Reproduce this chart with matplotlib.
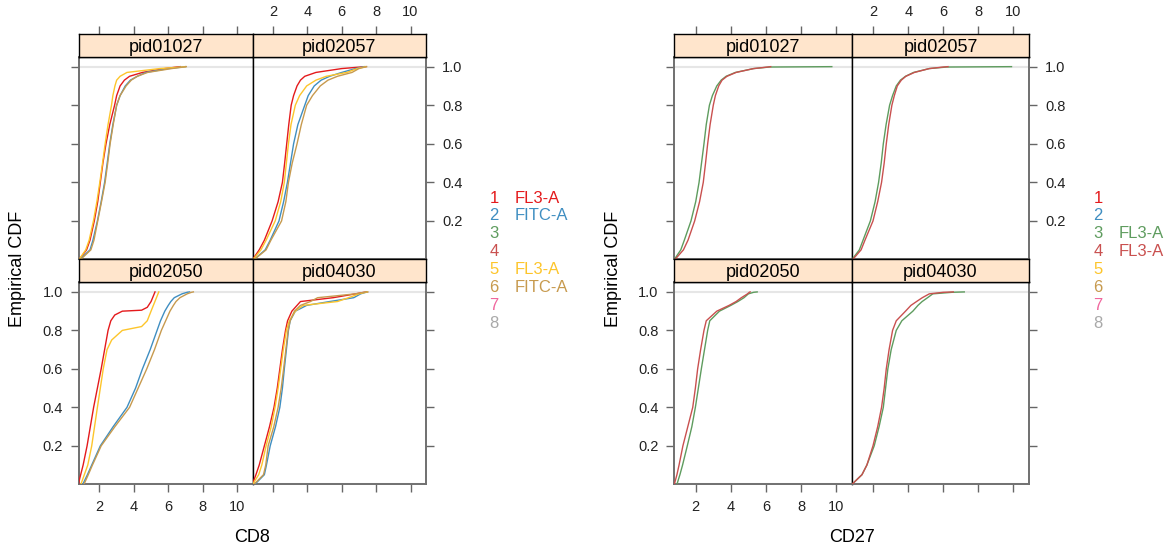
import matplotlib
matplotlib.use("Agg")
import matplotlib.pyplot as plt

plt.rcParams['font.family'] = ['Liberation Sans', 'DejaVu Sans']

# --------------------------------------------------------------
# Data: x values read at fixed ECDF levels
# --------------------------------------------------------------
panels = ["pid01027", "pid02057", "pid02050", "pid04030"]
levels = [0, .05, .1, .2, .3, .4, .5, .6, .7, .8, .85, .9, .93, .95, .97, .99, .998, 1.0]

series_labels = ["1", "2", "3", "4", "5", "6", "7", "8"]
cd8_legend = ["FL3-A", "FITC-A", "", "", "FL3-A", "FITC-A", "", ""]
cd27_legend = ["", "", "FL3-A", "FL3-A", "", "", "", ""]
colors = ["#E41A1C", "#3F8EC1", "#5E9C5E", "#C9504F", "#FDC52B", "#C79A4E", "#F0679E", "#A9A9A9"]

# CD8, pid01027
cd8_01027_s1 = [0.82, 1.25, 1.45, 1.7, 1.9, 2.05, 2.2, 2.38, 2.6, 2.88, 3.0, 3.2, 3.45, 3.75, 4.5, 5.8, 6.5, 6.7]
cd8_01027_s2 = [0.85, 1.45, 1.62, 1.88, 2.1, 2.3, 2.45, 2.6, 2.78, 3.0, 3.2, 3.5, 3.8, 4.2, 4.7, 6.0, 6.8, 7.0]
cd8_01027_s5 = [0.82, 1.2, 1.4, 1.65, 1.85, 2.02, 2.18, 2.33, 2.5, 2.7, 2.78, 2.9, 3.0, 3.2, 3.6, 5.5, 6.8, 7.0]
cd8_01027_s6 = [0.9, 1.5, 1.68, 1.9, 2.12, 2.33, 2.48, 2.62, 2.8, 3.0, 3.2, 3.55, 3.85, 4.2, 4.8, 6.2, 6.9, 7.05]
# CD8, pid02057
cd8_02057_s1 = [0.82, 1.2, 1.5, 1.95, 2.3, 2.55, 2.68, 2.8, 2.92, 3.06, 3.2, 3.4, 3.6, 3.85, 4.5, 6.0, 7.1, 7.4]
cd8_02057_s2 = [0.9, 1.55, 1.84, 2.35, 2.62, 2.84, 3.02, 3.2, 3.45, 3.85, 4.05, 4.4, 4.8, 5.3, 6.0, 6.8, 7.2, 7.3]
cd8_02057_s5 = [0.84, 1.3, 1.6, 2.13, 2.45, 2.66, 2.78, 2.9, 3.05, 3.3, 3.55, 3.96, 4.5, 5.1, 6.3, 6.9, 7.3, 7.4]
cd8_02057_s6 = [0.92, 1.6, 1.88, 2.5, 2.75, 2.9, 3.12, 3.4, 3.65, 3.96, 4.3, 4.75, 5.2, 5.75, 6.6, 7.0, 7.35, 7.45]
# CD8, pid02050 (red and yellow have their own levels)
cd8_02050_s1_y = [0, 0.03, 0.1, 0.2, 0.4, 0.6, 0.8, 0.85, 0.88, 0.9, 0.905, 0.92, 0.95, 1.0]
cd8_02050_s1 = [0.78, 0.85, 1.05, 1.28, 1.66, 2.1, 2.5, 2.66, 2.89, 3.33, 4.45, 4.78, 5.0, 5.23]
cd8_02050_s5_y = [0, 0.1, 0.2, 0.4, 0.6, 0.7, 0.75, 0.8, 0.81, 0.82, 0.85, 0.9, 1.0]
cd8_02050_s5 = [0.92, 1.32, 1.55, 1.88, 2.22, 2.44, 2.71, 3.33, 3.89, 4.45, 4.78, 5.0, 5.45]
cd8_02050_s2 = [1.03, 1.3, 1.55, 2.05, 2.8, 3.6, 4.1, 4.5, 4.95, 5.35, 5.55, 5.8, 6.0, 6.15, 6.35, 6.8, 7.1, 7.24]
cd8_02050_s6 = [1.1, 1.35, 1.59, 2.1, 2.9, 3.75, 4.25, 4.75, 5.2, 5.6, 5.85, 6.1, 6.3, 6.45, 6.68, 7.1, 7.35, 7.46]
# CD8, pid04030
cd8_04030_s1 = [0.8, 1.01, 1.2, 1.5, 1.8, 2.06, 2.25, 2.4, 2.55, 2.73, 2.85, 3.1, 3.4, 3.6, 5.5, 6.8, 7.3, 7.5]
cd8_04030_s2 = [0.95, 1.5, 1.62, 1.84, 2.15, 2.4, 2.55, 2.66, 2.78, 2.9, 3.0, 3.3, 3.96, 5.3, 6.7, 7.1, 7.4, 7.5]
cd8_04030_s5 = [0.82, 1.17, 1.35, 1.6, 1.9, 2.12, 2.3, 2.45, 2.6, 2.78, 2.95, 3.3, 3.75, 5.75, 6.4, 7.0, 7.4, 7.5]
cd8_04030_s6 = [0.9, 1.45, 1.58, 1.72, 2.05, 2.3, 2.48, 2.62, 2.75, 2.88, 3.0, 3.25, 3.6, 4.18, 4.6, 6.8, 7.3, 7.45]

# CD27
cd27_01027_s3 = [0.78, 1.15, 1.35, 1.73, 2.0, 2.19, 2.33, 2.47, 2.6, 2.78, 2.95, 3.2, 3.45, 3.73, 4.26, 5.3, 6.2, 9.75]
cd27_01027_s4 = [0.82, 1.3, 1.56, 1.94, 2.22, 2.43, 2.56, 2.68, 2.82, 3.0, 3.12, 3.31, 3.5, 3.78, 4.3, 5.3, 6.1, 6.27]
cd27_02057_s3 = [0.78, 1.2, 1.41, 1.83, 2.1, 2.3, 2.45, 2.57, 2.73, 2.93, 3.1, 3.31, 3.55, 3.84, 4.3, 5.2, 6.2, 9.9]
cd27_02057_s4 = [0.82, 1.3, 1.52, 1.98, 2.25, 2.47, 2.62, 2.74, 2.88, 3.06, 3.2, 3.37, 3.6, 3.86, 4.35, 5.2, 6.0, 6.27]
cd27_02050_s3 = [0.93, 1.1, 1.25, 1.52, 1.78, 1.98, 2.15, 2.32, 2.5, 2.68, 2.8, 3.35, 4.0, 4.4, 4.75, 5.0, 5.3, 5.5]
cd27_02050_s4 = [0.78, 0.93, 1.05, 1.27, 1.55, 1.83, 1.98, 2.11, 2.28, 2.47, 2.6, 3.2, 3.9, 4.3, 4.6, 4.95, 5.05, 5.1]
cd27_04030_s3 = [0.78, 1.35, 1.63, 2.05, 2.33, 2.57, 2.7, 2.83, 3.02, 3.31, 3.63, 4.26, 4.55, 4.79, 5.1, 5.4, 6.5, 7.2]
cd27_04030_s4 = [0.78, 1.35, 1.63, 1.98, 2.25, 2.47, 2.62, 2.74, 2.9, 3.1, 3.31, 3.84, 4.15, 4.47, 4.8, 5.2, 6.0, 6.57]

x_ticks = [2, 4, 6, 8, 10]
y_ticks = [0.2, 0.4, 0.6, 0.8, 1.0]

# curves per panel: (series number, x, y)
cd8_curves = {
    "pid01027": [(1, cd8_01027_s1, levels), (2, cd8_01027_s2, levels), (5, cd8_01027_s5, levels), (6, cd8_01027_s6, levels)],
    "pid02057": [(1, cd8_02057_s1, levels), (2, cd8_02057_s2, levels), (5, cd8_02057_s5, levels), (6, cd8_02057_s6, levels)],
    "pid02050": [(1, cd8_02050_s1, cd8_02050_s1_y), (2, cd8_02050_s2, levels), (5, cd8_02050_s5, cd8_02050_s5_y), (6, cd8_02050_s6, levels)],
    "pid04030": [(1, cd8_04030_s1, levels), (2, cd8_04030_s2, levels), (5, cd8_04030_s5, levels), (6, cd8_04030_s6, levels)],
}
cd27_curves = {
    "pid01027": [(3, cd27_01027_s3, levels), (4, cd27_01027_s4, levels)],
    "pid02057": [(3, cd27_02057_s3, levels), (4, cd27_02057_s4, levels)],
    "pid02050": [(3, cd27_02050_s3, levels), (4, cd27_02050_s4, levels)],
    "pid04030": [(3, cd27_04030_s3, levels), (4, cd27_04030_s4, levels)],
}

# --------------------------------------------------------------
# Layout (pixels)
# --------------------------------------------------------------
W, H = 1175, 548
fig = plt.figure(figsize=(W / 100, H / 100), dpi=100)

def px_axes(x0, y0, x1, y1):
    return fig.add_axes([x0 / W, 1 - y1 / H, (x1 - x0) / W, (y1 - y0) / H])

rows = [(34.3, 57.0, 259.5), (259.5, 282.3, 484.3)]  # strip top, panel top, panel bottom
TICK_C = "#666666"
BORDER_C = "#707070"


def draw_group(cols_px, xlim, curves, xlabel, legend_texts, leg_x):
    for i, pid in enumerate(panels):
        r, c = divmod(i, 2)
        st, pt, pb = rows[r]
        x0, x1 = cols_px[c], cols_px[c + 1]

        ax = px_axes(x0, pt, x1, pb)
        ax.set_xlim(*xlim)
        ax.set_ylim(0, 1.05)
        ax.axhline(0, color="#E6E6E6", lw=1.5, zorder=1)
        ax.axhline(1, color="#E6E6E6", lw=1.5, zorder=1)
        for s, xs, ys in curves[pid]:
            ax.plot(xs, ys, color=colors[s - 1], lw=1.0, zorder=3, clip_on=True)

        for side in ["left", "right", "top", "bottom"]:
            ax.spines[side].set_color(BORDER_C)
            ax.spines[side].set_linewidth(1.4)
        ax.spines["top"].set_color("black")
        ax.spines["top"].set_linewidth(1.0)
        if c == 0:
            ax.spines["right"].set_color("black")
            ax.spines["right"].set_linewidth(1.0)
        else:
            ax.spines["left"].set_color("black")
            ax.spines["left"].set_linewidth(1.0)

        ax.set_xticks(x_ticks)
        ax.set_yticks(y_ticks)
        ax.set_yticklabels([f"{v:.1f}" for v in y_ticks])
        ax.tick_params(direction="out", length=5.5, width=1.0, color=TICK_C,
                       labelsize=10.5, pad=6, labelcolor="#222222")
        # lattice-style alternating axes
        if r == 1:
            ax.tick_params(axis="x", bottom=True, top=False, labelbottom=(c == 0), labeltop=False)
        else:
            ax.tick_params(axis="x", bottom=False, top=False, labelbottom=False, labeltop=False)
        if c == 0:
            ax.tick_params(axis="y", left=True, right=False, labelleft=(r == 1), labelright=False)
        else:
            ax.tick_params(axis="y", left=False, right=True, labelleft=False, labelright=(r == 0))

        # strip
        sx = px_axes(x0, st, x1, pt)
        sx.set_facecolor("#FFE5CC")
        sx.set_xlim(*xlim)
        sx.set_yticks([])
        for side in sx.spines.values():
            side.set_color("black")
            side.set_linewidth(1.0)
        sx.text(0.5, 0.42, pid, transform=sx.transAxes, ha="center", va="center", fontsize=13)
        if r == 0:
            sx.set_xticks(x_ticks)
            sx.tick_params(axis="x", direction="out", length=5.5, width=1.0, color=TICK_C,
                           labelsize=10.5, pad=5.5, bottom=False, labelbottom=False,
                           top=True, labeltop=(c == 1), labelcolor="#222222")
        else:
            sx.set_xticks([])

    xc = cols_px[1]
    fig.text(xc / W, 1 - 537 / H, xlabel, ha="center", va="center", fontsize=13)
    fig.text((cols_px[0] - 61) / W, 1 - 269 / H, "Empirical CDF", rotation=90,
             ha="center", va="center", fontsize=13)

    for k in range(8):
        yk = 198 + k * 17.9
        fig.text(leg_x / W, 1 - yk / H, series_labels[k], color=colors[k],
                 ha="center", va="center", fontsize=12)
        if legend_texts[k]:
            fig.text((leg_x + 21) / W, 1 - yk / H, legend_texts[k], color=colors[k],
                     ha="left", va="center", fontsize=12)


draw_group([79, 252.5, 426], (0.81, 10.9), cd8_curves, "CD8", cd8_legend, 494)
draw_group([674.3, 852, 1029], (0.78, 10.9), cd27_curves, "CD27", cd27_legend, 1098)

fig.savefig("out.png", dpi=100)
